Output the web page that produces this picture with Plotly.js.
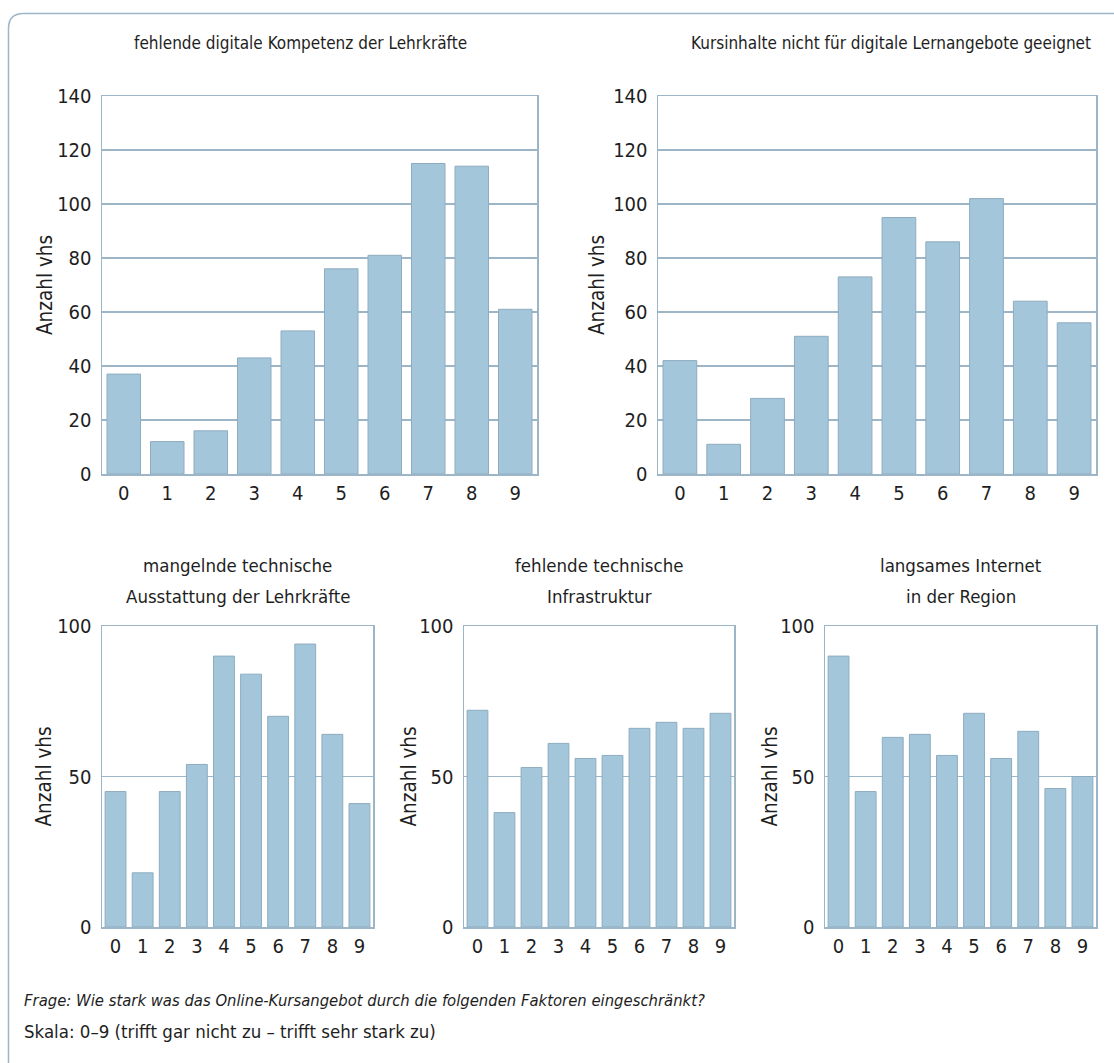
<!DOCTYPE html>
<html>
<head>
<meta charset="utf-8">
<script src="https://cdn.plot.ly/plotly-3.0.1.min.js"></script>
<style>
  html, body { margin: 0; padding: 0; background: #ffffff; }
  #chart { width: 1114px; height: 1063px; }
</style>
</head>
<body>
<div id="chart"></div>
<script>
// ---- data ----
const categories = ['0', '1', '2', '3', '4', '5', '6', '7', '8', '9'];

const titleKompetenz = 'fehlende digitale Kompetenz der Lehrkräfte';
const titleKursinhalte = 'Kursinhalte nicht für digitale Lernangebote geeignet';
const titleAusstattung = 'mangelnde technische<br>Ausstattung der Lehrkräfte';
const titleInfrastruktur = 'fehlende technische<br>Infrastruktur';
const titleInternet = 'langsames Internet<br>in der Region';

const valuesKompetenz = [37, 12, 16, 43, 53, 76, 81, 115, 114, 61];
const valuesKursinhalte = [42, 11, 28, 51, 73, 95, 86, 102, 64, 56];
const valuesAusstattung = [45, 18, 45, 54, 90, 84, 70, 94, 64, 41];
const valuesInfrastruktur = [72, 38, 53, 61, 56, 57, 66, 68, 66, 71];
const valuesInternet = [90, 45, 63, 64, 57, 71, 56, 65, 46, 50];

const yAxisLabel = 'Anzahl vhs';
const footerQuestion = 'Frage: Wie stark was das Online-Kursangebot durch die folgenden Faktoren eingeschränkt?';
const footerScale = 'Skala: 0–9 (trifft gar nicht zu – trifft sehr stark zu)';

// ---- styling / layout ----
const W = 1114, H = 1063;
const FONT = '"Liberation Sans Narrow", "DejaVu Sans Condensed", "Arial Narrow", sans-serif';
const TEXT = '#1e1e1e';
const LINE = '#9db6c7';
const BAR_FILL = '#a4c6da';
const BAR_LINE = '#8eacbf';

const px = x => x / W;
const py = y => 1 - y / H;

// panel boxes in pixels: [left, right, top, bottom]
const panels = [
  { box: [102, 537, 96, 474], vals: valuesKompetenz, title: titleKompetenz, range: [0, 140], dtick: 20, titleX: 300, titleY: 43, titleSize: 17, axX: 45 },
  { box: [658, 1096, 96, 474], vals: valuesKursinhalte, title: titleKursinhalte, range: [0, 140], dtick: 20, titleX: 891, titleY: 43, titleSize: 17, axX: 597 },
  { box: [102, 373, 626, 927], vals: valuesAusstattung, title: titleAusstattung, range: [0, 100], dtick: 50, titleX: 237.5, titleY: 565, titleSize: 18.5, axX: 43 },
  { box: [464, 734, 626, 927], vals: valuesInfrastruktur, title: titleInfrastruktur, range: [0, 100], dtick: 50, titleX: 599, titleY: 565, titleSize: 18.5, axX: 408 },
  { box: [825, 1096, 626, 927], vals: valuesInternet, title: titleInternet, range: [0, 100], dtick: 50, titleX: 960.5, titleY: 565, titleSize: 18.5, axX: 769 }
];
const LINE_GAP = 31;

const data = [];
const layout = {
  width: W, height: H,
  margin: { l: 0, r: 0, t: 0, b: 0 },
  paper_bgcolor: '#ffffff',
  plot_bgcolor: '#ffffff',
  showlegend: false,
  font: { family: FONT, color: TEXT, size: 20 },
  bargap: 0.23,
  annotations: [],
  shapes: []
};

panels.forEach((p, i) => {
  const n = i + 1;
  const xa = 'x' + (n === 1 ? '' : n);
  const ya = 'y' + (n === 1 ? '' : n);
  data.push({
    type: 'bar',
    x: categories,
    y: p.vals,
    xaxis: xa, yaxis: ya,
    marker: { color: BAR_FILL, line: { color: BAR_LINE, width: 1 } },
    hoverinfo: 'x+y'
  });
  const [l, r, t, b] = p.box;
  layout['xaxis' + (n === 1 ? '' : n)] = {
    domain: [px(l), px(r)],
    anchor: ya,
    type: 'category',
    range: [-0.5, 9.5],
    showline: true, mirror: true, linecolor: LINE, linewidth: 1.5,
    showgrid: false, zeroline: false,
    ticks: '', ticklabelstandoff: 0,
    tickfont: { family: FONT, size: 20, color: TEXT },
    fixedrange: true
  };
  layout['yaxis' + (n === 1 ? '' : n)] = {
    domain: [py(b), py(t)],
    anchor: xa,
    range: p.range,
    dtick: p.dtick,
    tick0: 0,
    showline: true, mirror: true, linecolor: LINE, linewidth: 1.5,
    showgrid: true, gridcolor: LINE, gridwidth: 1.5,
    zeroline: false,
    ticks: '', ticklabelstandoff: 5,
    tickfont: { family: FONT, size: 20, color: TEXT },
    fixedrange: true
  };
  p.title.split('<br>').forEach((line, k) => {
    layout.annotations.push({
      xref: 'paper', yref: 'paper',
      x: px(p.titleX), y: py(p.titleY + k * LINE_GAP),
      xanchor: 'center', yanchor: 'middle',
      text: line, showarrow: false,
      font: { family: FONT, size: p.titleSize, color: TEXT }
    });
  });
  layout.annotations.push({
    xref: 'paper', yref: 'paper',
    x: px(p.axX), y: py((t + b) / 2),
    xanchor: 'center', yanchor: 'middle',
    textangle: -90,
    text: yAxisLabel, showarrow: false,
    font: { family: FONT, size: 20.5, color: TEXT }
  });
});

layout.annotations.push({
  xref: 'paper', yref: 'paper',
  x: px(22), y: py(1000),
  xanchor: 'left', yanchor: 'middle',
  text: '<i>' + footerQuestion + '</i>', showarrow: false,
  font: { family: FONT, size: 16.5, color: TEXT }
});
layout.annotations.push({
  xref: 'paper', yref: 'paper',
  x: px(22), y: py(1031),
  xanchor: 'left', yanchor: 'middle',
  text: footerScale, showarrow: false,
  font: { family: FONT, size: 18.5, color: TEXT }
});

// outer frame: top and left edges with rounded corner
const fx = px(8.5), fyTop = py(13.5), rx = px(15), ry = 15 / H;
layout.shapes.push({
  type: 'path', xref: 'paper', yref: 'paper',
  path: `M ${fx},0 L ${fx},${fyTop - ry} Q ${fx},${fyTop} ${fx + rx},${fyTop} L 1,${fyTop}`,
  line: { color: LINE, width: 1.5 },
  layer: 'below'
});

Plotly.newPlot('chart', data, layout, { displayModeBar: false, staticPlot: true });
</script>
</body>
</html>
